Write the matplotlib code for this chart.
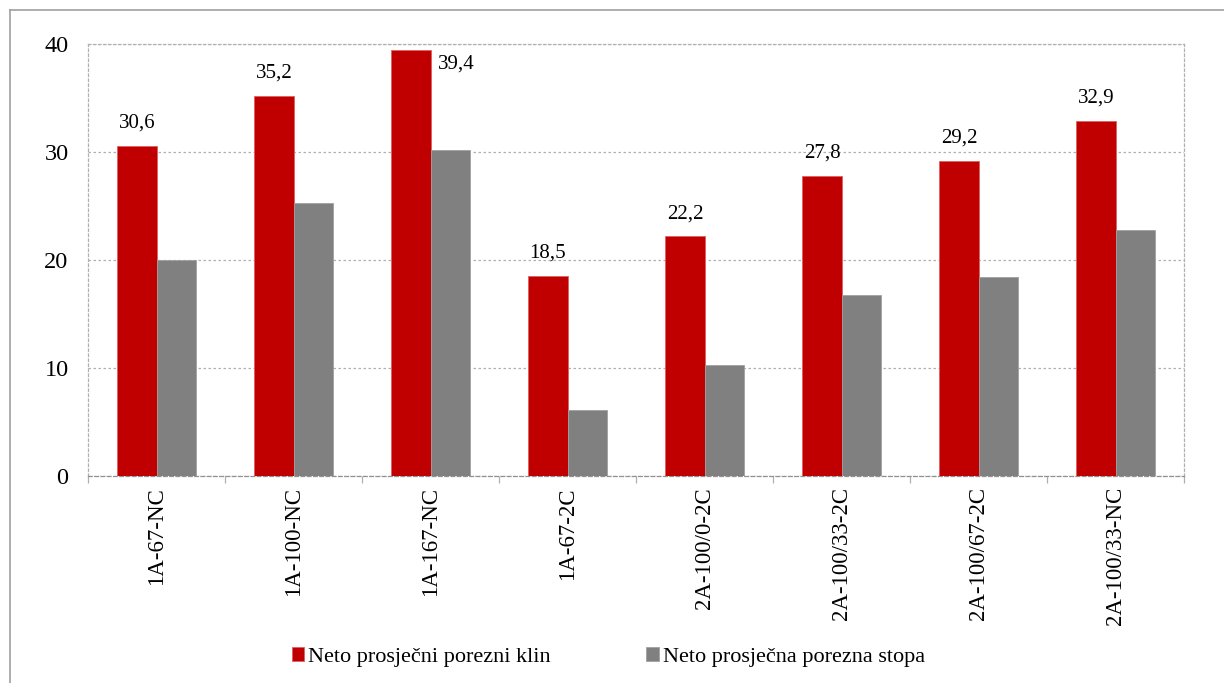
import matplotlib.pyplot as plt
import numpy as np
from matplotlib.lines import Line2D

categories = ['1A-67-NC', '1A-100-NC', '1A-167-NC', '1A-67-2C',
              '2A-100/0-2C', '2A-100/33-2C', '2A-100/67-2C', '2A-100/33-NC']
klin = [30.6, 35.2, 39.4, 18.5, 22.2, 27.8, 29.2, 32.9]
stopa = [20.0, 25.3, 30.2, 6.1, 10.3, 16.8, 18.4, 22.8]
yticks = [0, 10, 20, 30, 40]

plt.rcParams['font.family'] = ['Liberation Serif', 'DejaVu Serif']

fig = plt.figure(figsize=(12.24, 6.83), dpi=100)
ax = fig.add_axes([88 / 1224, 1 - 476 / 683, (1184 - 88) / 1224, (476 - 44) / 683])

x = np.arange(len(categories))
w = 0.285
bars1 = ax.bar(x - w / 2, klin, w, color='#c00000', edgecolor='#e06060', linewidth=0.6,
               label='Neto prosječni porezni klin', zorder=3)
bars2 = ax.bar(x + w / 2, stopa, w, color='#808080', edgecolor='#a0a0a0', linewidth=0.6,
               label='Neto prosječna porezna stopa', zorder=3)

# value labels above red bars (the tallest one goes beside the bar)
for b, v in zip(bars1, klin):
    txt = f'{v:.1f}'.replace('.', ',')
    cx = b.get_x() + b.get_width() / 2
    if v > 38:
        ax.text(cx + 0.33, v - 1.3, txt, ha='center', va='center', fontsize=15)
    else:
        ax.text(cx, v + 2.1, txt, ha='center', va='center', fontsize=15)

ax.set_xlim(-0.5, len(categories) - 0.5)
ax.set_ylim(0, 40)
ax.set_yticks(yticks)
ax.set_yticklabels([str(t) for t in yticks], fontsize=17.5)
ax.yaxis.grid(True, linestyle=(0, (2, 2)), color='#b0b0b0', linewidth=0.9, zorder=0)
ax.tick_params(axis='y', length=0, pad=14)

ax.set_xticks(x)
ax.set_xticklabels(categories, rotation=90, fontsize=16.5)
ax.tick_params(axis='x', length=0, pad=8)
# boundary ticks below the axis
ax.set_xticks(np.arange(len(categories) + 1) - 0.5, minor=True)
ax.tick_params(axis='x', which='minor', length=5, color='#b0b0b0', width=0.9)

for side in ['left', 'right', 'top']:
    ax.spines[side].set_linestyle((0, (2, 2)))
    ax.spines[side].set_color('#b0b0b0')
    ax.spines[side].set_linewidth(0.9)
ax.spines['bottom'].set_linestyle((0, (3, 2)))
ax.spines['bottom'].set_color('#909090')
ax.spines['bottom'].set_linewidth(0.9)

leg = fig.legend(handles=[bars1, bars2], loc='center', bbox_to_anchor=(0.497, 1 - 657 / 683),
                 ncol=2, frameon=False, fontsize=16, handlelength=0.55, handleheight=0.55,
                 handletextpad=0.2, columnspacing=4.3)

# outer chart frame (only top and left visible)
fig.add_artist(Line2D([10 / 1224, 1], [1 - 10 / 683, 1 - 10 / 683], color='#a0a0a0', lw=1.2))
fig.add_artist(Line2D([10 / 1224, 10 / 1224], [0, 1 - 10 / 683], color='#a0a0a0', lw=1.2))

fig.savefig('out.png', dpi=100)
